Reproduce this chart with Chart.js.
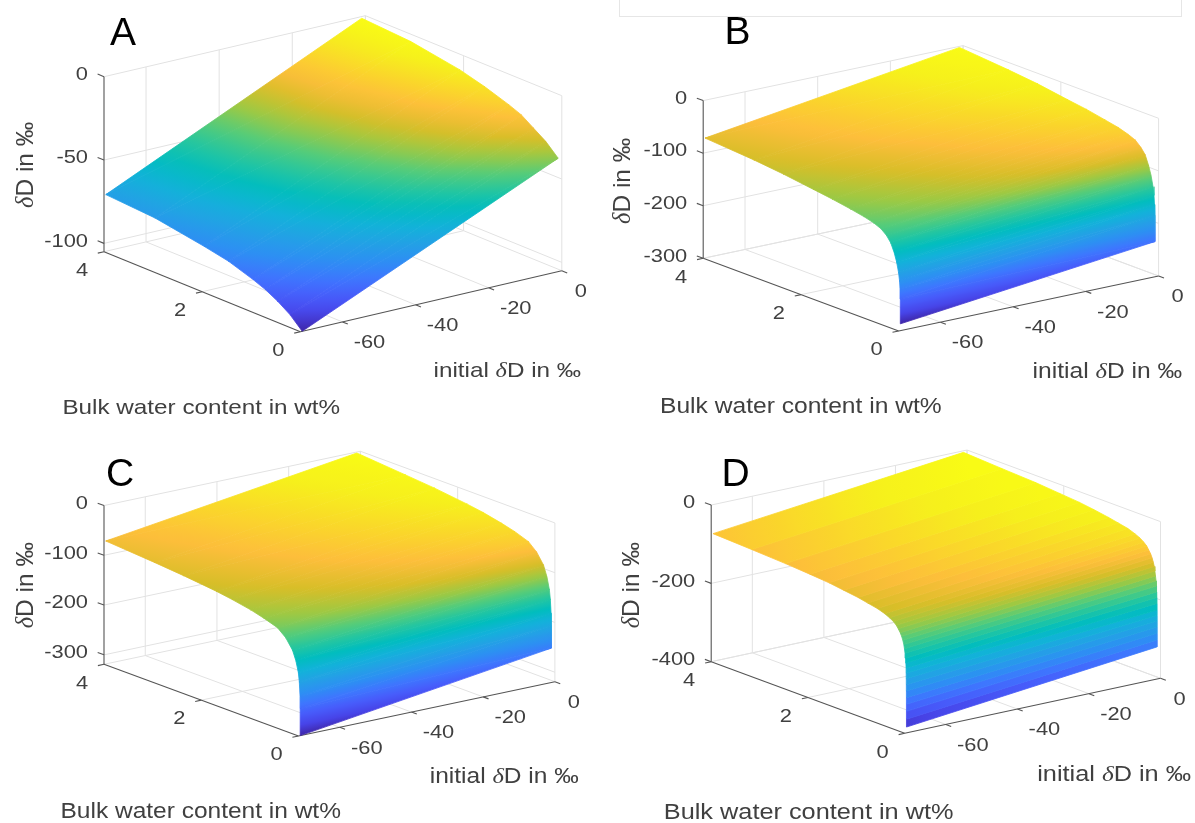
<!DOCTYPE html>
<html>
<head>
<meta charset="utf-8">
<title>Bulk water content and deltaD surfaces</title>
<script src="https://cdn.jsdelivr.net/npm/chart.js@4"></script>
<style>
    html, body { margin: 0; padding: 0; background: #fff; }
    body { position: relative; width: 1195px; height: 823px; overflow: hidden; }
    canvas { position: absolute; filter: blur(0.4px); }
    #topBox { position: absolute; left: 619px; top: -2px; width: 561px; height: 17px; border: 1px solid #e6e6e6; }
</style>
</head>
<body>
<div id="topBox"></div>
<canvas id="panelA" width="600" height="420" style="left:0;top:0"></canvas>
<canvas id="panelB" width="595" height="420" style="left:600px;top:0"></canvas>
<canvas id="panelC" width="600" height="403" style="left:0;top:420px"></canvas>
<canvas id="panelD" width="595" height="403" style="left:600px;top:420px"></canvas>
<script>
// tick labels
var waterTicks = [0, 2, 4];
var deltaTicks = [-60, -40, -20, 0];
var zTicksA = [0, -50, -100];
var zTicksB = [0, -100, -200, -300];
var zTicksC = [0, -100, -200, -300];
var zTicksD = [0, -200, -400];

// surfaces: one row per water content, dD at the low and high end of initial dD
var initialLow = -71;
var initialHigh = -1;

var waterA = [4, 3, 2, 1.5, 1, 0.75, 0.5, 0.25, 0];
var lowA = [-71, -73, -78, -81, -86, -89, -93, -98, -105];
var highA = [-1, -3, -8, -12, -17, -20, -25, -30, -37];

var waterB = [4, 3, 2.4, 1.78, 1.4, 1.02, 0.75, 0.55, 0.4, 0.285, 0.2, 0.13, 0.08, 0.04, 0.02, 0.01, 0.004, 0];
var lowB = [-72, -79, -85, -93, -98, -104, -109, -114, -120, -129, -140, -156, -172, -191, -206, -221, -240, -287];
var highB = [-2, -10, -16, -25, -30, -37, -42, -48, -54, -64, -75, -93, -110, -130, -146, -163, -183, -233];

var waterC = [4, 3, 2.4, 1.73, 1.4, 1.02, 0.75, 0.47, 0.3, 0.16, 0.09, 0.04, 0.02, 0.005, 0.002, 0];
var lowC = [-72, -79, -84, -91, -96, -103, -110, -119, -133, -153, -172, -194, -212, -240, -265, -319];
var highC = [-2, -10, -15, -23, -28, -36, -43, -53, -68, -89, -110, -134, -153, -180, -205, -250];

var waterD = [4, 3.2, 2.5, 2, 1.6, 1.3, 1, 0.8, 0.6, 0.45, 0.35, 0.27, 0.21, 0.17, 0.13, 0.1, 0.075, 0.055, 0.042, 0.03, 0.018, 0.012, 0.008, 0.006, 0.004, 0.003, 0.002, 0.0016, 0.0012, 0.0008, 0.0004, 0];
var lowD = [-74, -78, -82, -86, -90, -95, -100, -105, -110, -116, -122, -128, -135, -142, -150, -158, -167, -177, -187, -198, -210, -222, -235, -248, -262, -277, -293, -310, -327, -345, -365, -385];
var highD = [-4, -9, -13, -18, -22, -27, -33, -38, -43, -50, -56, -63, -70, -78, -86, -95, -105, -115, -126, -138, -150, -163, -178, -192, -207, -224, -238, -252, -267, -283, -300, -318];

// parula, evenly spaced
var parula = [
    [62, 38, 168], [71, 68, 232], [71, 92, 251], [62, 118, 254], [45, 143, 243], [35, 161, 229],
    [18, 178, 217], [1, 189, 190], [36, 198, 160], [87, 204, 120], [157, 201, 67], [216, 190, 40],
    [253, 190, 59], [250, 215, 42], [246, 240, 28], [249, 251, 21]
];

var gridColor = "#e2e2e2";
var axisColor = "#555555";
var textColor = "#404040";
var deltaMin = -71.5;
var textStretch = 1.15; // the picture is a bit wider than tall

var views = [
    { id: "panelA", letter: "A", water: waterA, low: lowA, high: highA, zTicks: zTicksA, floor: -105, zPx: 5 / 3, flat: false,
      left: { x: 104, y: 251.7 }, corner: { x: 300.4, y: 331.7 }, right: { x: 561.8, y: 270.7 }, size: 21.1,
      letterAt: [110, 45], xLabelAt: [433.6, 376.7], bulkAt: [62.4, 414.3], zLabelAt: [32.5, 208] },
    { id: "panelB", letter: "B", water: waterB, low: lowB, high: highB, zTicks: zTicksB, floor: -300, zPx: 1.577 / 3, flat: false,
      left: { x: 103.2, y: 258.3 }, corner: { x: 298.7, y: 331 }, right: { x: 558.6, y: 276 }, size: 21.4,
      letterAt: [124.5, 44.3], xLabelAt: [432.6, 377.7], bulkAt: [60, 413.3], zLabelAt: [30.4, 224] },
    { id: "panelC", letter: "C", water: waterC, low: lowC, high: highC, zTicks: zTicksC, floor: -319, zPx: 1.493 / 3, flat: false,
      left: { x: 104, y: 244.3 }, corner: { x: 298.5, y: 316 }, right: { x: 554.9, y: 261.7 }, size: 21.3,
      letterAt: [106, 65.7], xLabelAt: [429.8, 362.7], bulkAt: [60.5, 398.3], zLabelAt: [32.5, 208.3] },
    { id: "panelD", letter: "D", water: waterD, low: lowD, high: highD, zTicks: zTicksD, floor: -400, zPx: 1.175 / 3, flat: true,
      left: { x: 111.2, y: 241.7 }, corner: { x: 304.7, y: 313.3 }, right: { x: 560.5, y: 258.3 }, size: 22,
      letterAt: [121.4, 66], xLabelAt: [437.2, 361], bulkAt: [63.8, 399.3], zLabelAt: [38.7, 208.3] }
];

function project(view, water, delta, z) {
    var t = water / 4;
    var u = (delta - deltaMin) / (0 - deltaMin);
    return {
        x: view.corner.x + t * (view.left.x - view.corner.x) + u * (view.right.x - view.corner.x),
        y: view.corner.y + t * (view.left.y - view.corner.y) + u * (view.right.y - view.corner.y) - (z - view.floor) * view.zPx
    };
}

function colorAt(t) {
    t = Math.max(0, Math.min(1, t)) * (parula.length - 1);
    var i = Math.min(Math.floor(t), parula.length - 2);
    var f = t - i;
    var c = [0, 1, 2].map(function (k) { return Math.round(parula[i][k] + f * (parula[i + 1][k] - parula[i][k])); });
    return "rgb(" + c.join(",") + ")";
}

// colour of one surface piece: a gradient that follows dD across it
function pieceFill(chart, view, piece, zMin, zMax) {
    var sum = piece.reduce(function (s, p) { return s + p.z; }, 0);
    var mean = colorAt((sum / piece.length - zMin) / (zMax - zMin));
    var px = piece.map(function (p) {
        return { x: chart.scales.x.getPixelForValue(p.x), y: chart.scales.y.getPixelForValue(p.y), z: p.z };
    });
    // the scales are not laid out yet on the first pass
    if (!isFinite(px[0].x) || !isFinite(px[0].y)) return mean;

    var a, b;
    if (view.flat) {
        // flat bands: colour only runs along the row
        a = px[0];
        b = px[1];
    } else {
        var dx1 = px[1].x - px[0].x, dy1 = px[1].y - px[0].y, dz1 = px[1].z - px[0].z;
        var dx2 = px[2].x - px[0].x, dy2 = px[2].y - px[0].y, dz2 = px[2].z - px[0].z;
        var det = dx1 * dy2 - dx2 * dy1;
        if (Math.abs(det) < 1e-6) return mean;
        var gx = (dz1 * dy2 - dz2 * dy1) / det;
        var gy = (dx1 * dz2 - dx2 * dz1) / det;
        var g2 = gx * gx + gy * gy;
        if (!(g2 > 0)) return mean;
        var zs = px.map(function (p) { return p.z; });
        var lo = Math.min.apply(null, zs), hi = Math.max.apply(null, zs);
        a = { x: px[0].x + gx * (lo - px[0].z) / g2, y: px[0].y + gy * (lo - px[0].z) / g2, z: lo };
        b = { x: px[0].x + gx * (hi - px[0].z) / g2, y: px[0].y + gy * (hi - px[0].z) / g2, z: hi };
    }
    var grad = chart.ctx.createLinearGradient(a.x, a.y, b.x, b.y);
    for (var s = 0; s <= 16; s++) {
        var z = a.z + (b.z - a.z) * s / 16;
        grad.addColorStop(s / 16, colorAt((z - zMin) / (zMax - zMin)));
    }
    return grad;
}

function surfaceDatasets(view) {
    var sets = [];
    var zMin = Math.min.apply(null, view.low);
    var zMax = Math.max.apply(null, view.high);
    var addPiece = function (piece) {
        var paint = function (ctx) { return pieceFill(ctx.chart, view, piece, zMin, zMax); };
        sets.push({
            data: piece.concat([piece[0]]),
            fill: "shape",
            backgroundColor: paint,
            borderColor: paint,
            borderWidth: 0.8,
            pointRadius: 0,
            tension: 0
        });
    };
    var vertex = function (i, delta, z) {
        var q = project(view, view.water[i], delta, z);
        return { x: q.x, y: q.y, z: z };
    };
    for (var i = 0; i < view.water.length - 1; i++) {
        var a = vertex(i, initialLow, view.low[i]);
        var b = vertex(i, initialHigh, view.high[i]);
        var c = vertex(i + 1, initialHigh, view.high[i + 1]);
        var d = vertex(i + 1, initialLow, view.low[i + 1]);
        if (view.flat) {
            addPiece([a, b, c, d]);
        } else {
            // two triangles keep the gradient continuous from cell to cell
            addPiece([a, b, c]);
            addPiece([a, c, d]);
        }
    }
    return sets;
}

function lineSet(a, b, color, width) {
    return { data: [a, b], borderColor: color, borderWidth: width, pointRadius: 0, fill: false, tension: 0 };
}

function axisDatasets(view) {
    var out = [];
    var p = function (w, d, z) { return project(view, w, d, z); };
    var f = view.floor;
    var axes = [];
    var grid = [];

    waterTicks.forEach(function (w) {
        if (w !== 0) grid.push([p(w, deltaMin, f), p(w, 0, f)]);
        grid.push([p(w, 0, f), p(w, 0, 0)]);
        axes.push([p(w, deltaMin, f), p(w, deltaMin - 1.7, f)]);
    });
    deltaTicks.forEach(function (d) {
        grid.push([p(0, d, f), p(4, d, f)]);
        grid.push([p(4, d, f), p(4, d, 0)]);
        axes.push([p(0, d, f), p(-0.11, d, f)]);
    });
    view.zTicks.forEach(function (z) {
        grid.push([p(4, deltaMin, z), p(4, 0, z)]);
        grid.push([p(4, 0, z), p(0, 0, z)]);
        axes.push([p(4, deltaMin, z), p(4.13, deltaMin, z)]);
    });
    axes.push([p(4, deltaMin, f), p(4, deltaMin, 0)]);
    axes.push([p(4, deltaMin, f), p(0, deltaMin, f)]);
    axes.push([p(0, deltaMin, f), p(0, 0, f)]);

    axes.forEach(function (l) { out.push(lineSet(l[0], l[1], axisColor, 1.1)); });
    grid.forEach(function (l) { out.push(lineSet(l[0], l[1], gridColor, 1)); });
    return out;
}

function drawRuns(ctx, runs, x, y, angle, stretch) {
    ctx.save();
    ctx.translate(x, y);
    ctx.rotate(angle || 0);
    ctx.scale(stretch || 1, 1);
    ctx.textAlign = "left";
    ctx.textBaseline = "alphabetic";
    var at = 0;
    runs.forEach(function (r) {
        ctx.font = r[1];
        ctx.fillText(r[0], at, 0);
        at += ctx.measureText(r[0]).width;
    });
    ctx.restore();
}

function drawTick(ctx, text, q, align) {
    ctx.save();
    ctx.translate(q[0], q[1]);
    ctx.scale(textStretch, 1);
    ctx.textAlign = align;
    ctx.textBaseline = "middle";
    ctx.fillText(text, 0, 0);
    ctx.restore();
}

// 3D axes have no scale of their own, so the labels go on through this plugin
var labelPlugin = {
    id: "surfaceLabels",
    afterDraw: function (chart, args, opts) {
        var view = opts.view;
        var ctx = chart.ctx;
        var sx = chart.scales.x, sy = chart.scales.y;
        var at = function (q, dx, dy) { return [sx.getPixelForValue(q.x) + dx, sy.getPixelForValue(q.y) + dy]; };
        var sans = function (s) { return s + "px 'Liberation Sans'"; };
        var delta = function (s) { return "italic " + s + "px 'Liberation Serif'"; };

        ctx.save();
        ctx.fillStyle = textColor;
        ctx.font = sans(19);
        waterTicks.forEach(function (w) {
            drawTick(ctx, String(w), at(project(view, w, deltaMin, view.floor), -22, 19), "center");
        });
        deltaTicks.forEach(function (d) {
            drawTick(ctx, String(d), at(project(view, 0, d, view.floor), d === 0 ? 19 : 27, 21), "center");
        });
        view.zTicks.forEach(function (z) {
            drawTick(ctx, String(z), at(project(view, 4, deltaMin, z), -16, -2), "right");
        });

        drawRuns(ctx, [["initial ", sans(view.size)], ["δ", delta(view.size)], ["D in ‰", sans(view.size)]], view.xLabelAt[0], view.xLabelAt[1], 0, textStretch);
        drawRuns(ctx, [["Bulk water content in wt%", sans(view.size)]], view.bulkAt[0], view.bulkAt[1], 0, textStretch);
        drawRuns(ctx, [["δ", delta(24.5)], ["D in ‰", sans(24.5)]], view.zLabelAt[0], view.zLabelAt[1], -Math.PI / 2);

        ctx.fillStyle = "#000";
        drawRuns(ctx, [[view.letter, sans(39)]], view.letterAt[0], view.letterAt[1]);
        ctx.restore();
    }
};

views.forEach(function (view) {
    var canvas = document.getElementById(view.id);
    new Chart(canvas.getContext("2d"), {
        type: "line",
        data: { datasets: surfaceDatasets(view).concat(axisDatasets(view)) },
        options: {
            responsive: false,
            animation: false,
            events: [],
            layout: { padding: 0 },
            scales: {
                x: { type: "linear", min: 0, max: canvas.width, display: false },
                y: { type: "linear", min: 0, max: canvas.height, reverse: true, display: false }
            },
            plugins: {
                legend: { display: false },
                title: { display: false },
                tooltip: { enabled: false },
                surfaceLabels: { view: view }
            }
        },
        plugins: [labelPlugin]
    });
});
</script>
</body>
</html>
